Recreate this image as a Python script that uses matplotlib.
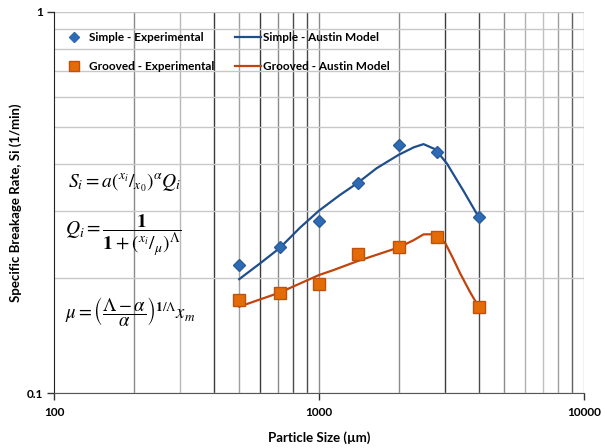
import matplotlib
matplotlib.use("Agg")
import matplotlib.pyplot as plt
from matplotlib.lines import Line2D

plt.rcParams['font.family'] = ['Lato', 'DejaVu Sans']
plt.rcParams['mathtext.fontset'] = 'stix'

# measured points
size_exp = [500, 710, 1000, 1400, 2000, 2800, 4000]
simple_exp = [0.217, 0.242, 0.283, 0.355, 0.447, 0.429, 0.290]
grooved_exp = [0.175, 0.183, 0.193, 0.232, 0.241, 0.257, 0.168]

# Austin model curves
simple_model_x = [500, 600, 710, 850, 1000, 1200, 1400, 1650, 2000, 2280, 2480, 2750, 3040, 3520, 4000]
simple_model_y = [0.199, 0.219, 0.240, 0.272, 0.301, 0.331, 0.356, 0.389, 0.422, 0.4415, 0.450, 0.436, 0.400, 0.338, 0.290]
grooved_model_x = [500, 710, 1000, 1130, 1400, 2000, 2280, 2480, 2750, 3000, 3200, 3410, 3700, 4000]
grooved_model_y = [0.1685, 0.1834, 0.204, 0.210, 0.222, 0.241, 0.252, 0.2608, 0.261, 0.247, 0.226, 0.206, 0.185, 0.1685]

x_ticks = [100, 1000, 10000]
x_tick_labels = ["100", "1000", "10000"]
y_ticks = [0.1, 1]
y_tick_labels = ["0.1", "1"]

blue_line = "#1F4E8C"
blue_mark = "#2E6BB5"
orange_line = "#C0440C"
orange_mark = "#E36C09"

fig = plt.figure(figsize=(6.07, 4.48), dpi=100)
ax = fig.add_axes([54 / 607, 1 - 393 / 448, 530 / 607, 381 / 448])
ax.set_xscale("log")
ax.set_yscale("log")
ax.set_xlim(100, 10000)
ax.set_ylim(0.1, 1)

# grid: horizontal light, vertical with mixed tones like the original
ax.yaxis.grid(True, which="both", color="#c8c8c8", lw=1.0)
v_tones = {200: "#8a8a8a", 300: "#b8b8b8", 400: "#3a3a3a", 500: "#a0a0a0", 600: "#3a3a3a",
           700: "#8a8a8a", 800: "#4a4a4a", 900: "#4a4a4a", 1000: "#8a8a8a", 2000: "#8a8a8a",
           3000: "#3a3a3a", 4000: "#4a4a4a", 5000: "#8a8a8a", 6000: "#b0b0b0", 7000: "#c0c0c0",
           8000: "#a0a0a0", 9000: "#606060", 10000: "#c0c0c0"}
for xv, c in v_tones.items():
    ax.axvline(xv, color=c, lw=1.0, zorder=0.5)
ax.set_axisbelow(True)

ax.plot(simple_model_x, simple_model_y, color=blue_line, lw=1.6, zorder=3)
ax.plot(grooved_model_x, grooved_model_y, color=orange_line, lw=1.6, zorder=3)
ax.plot(size_exp, simple_exp, ls="none", marker="D", ms=6, color=blue_mark,
        mec="#2a5c9c", zorder=4)
ax.plot(size_exp, grooved_exp, ls="none", marker="s", ms=8, color=orange_mark,
        mec="#c0500a", zorder=4)

ax.set_xticks(x_ticks, x_tick_labels)
ax.set_yticks(y_ticks, y_tick_labels)
ax.minorticks_on()
ax.tick_params(which="minor", length=0)
ax.yaxis.set_minor_formatter(plt.NullFormatter())
ax.xaxis.set_minor_formatter(plt.NullFormatter())
ax.tick_params(which="major", length=5, width=1, color="#333333", labelsize=8.5, pad=3)
ax.tick_params(axis="x", which="major", pad=5)
for lab in ax.get_xticklabels() + ax.get_yticklabels():
    lab.set_fontweight("bold")

for s in ["top", "right"]:
    ax.spines[s].set_visible(False)
ax.spines["left"].set_color("#222222")
ax.spines["bottom"].set_color("#555555")

ax.set_xlabel("Particle Size (µm)", fontsize=9.5, fontweight="bold", labelpad=10)
ax.set_ylabel("Specific Breakage Rate, Si (1/min)", fontsize=9.5, fontweight="bold", labelpad=3)

handles = [
    Line2D([], [], ls="none", marker="D", ms=5, color=blue_mark),
    Line2D([], [], ls="none", marker="s", ms=7, color=orange_mark, mec="#c0500a"),
    Line2D([], [], color=blue_line, lw=1.6),
    Line2D([], [], color=orange_line, lw=1.6),
]
labels = ["Simple - Experimental", "Grooved - Experimental",
          "Simple - Austin Model", "Grooved - Austin Model"]
leg = ax.legend(handles, labels, ncol=2, loc="upper left", bbox_to_anchor=(0.002, 0.963),
                frameon=False, prop={"weight": "bold", "size": 8.5},
                handlelength=2.2, handletextpad=0.15, columnspacing=1.8,
                labelspacing=1.55, borderpad=0)

# model equations
ax.text(68 / 607, 1 - 183 / 448, r"$S_i = a\left(^{x_i}/_{x_0}\right)^{\alpha} Q_i$",
        transform=fig.transFigure, fontsize=14, va="center", ha="left")
ax.text(65 / 607, 1 - 235 / 448,
        r"$Q_i = \dfrac{\mathbf{1}}{\mathbf{1} + \left(^{x_i}/_{\mu}\right)^{\mathit{\Lambda}}}$",
        transform=fig.transFigure, fontsize=14, va="center", ha="left")
ax.text(65 / 607, 1 - 312 / 448,
        r"$\mu = \left(\dfrac{\mathit{\Lambda} - \alpha}{\alpha}\right)^{\mathbf{1}/\mathit{\Lambda}} x_m$",
        transform=fig.transFigure, fontsize=13.5, va="center", ha="left")

fig.savefig("out.png", dpi=100)
